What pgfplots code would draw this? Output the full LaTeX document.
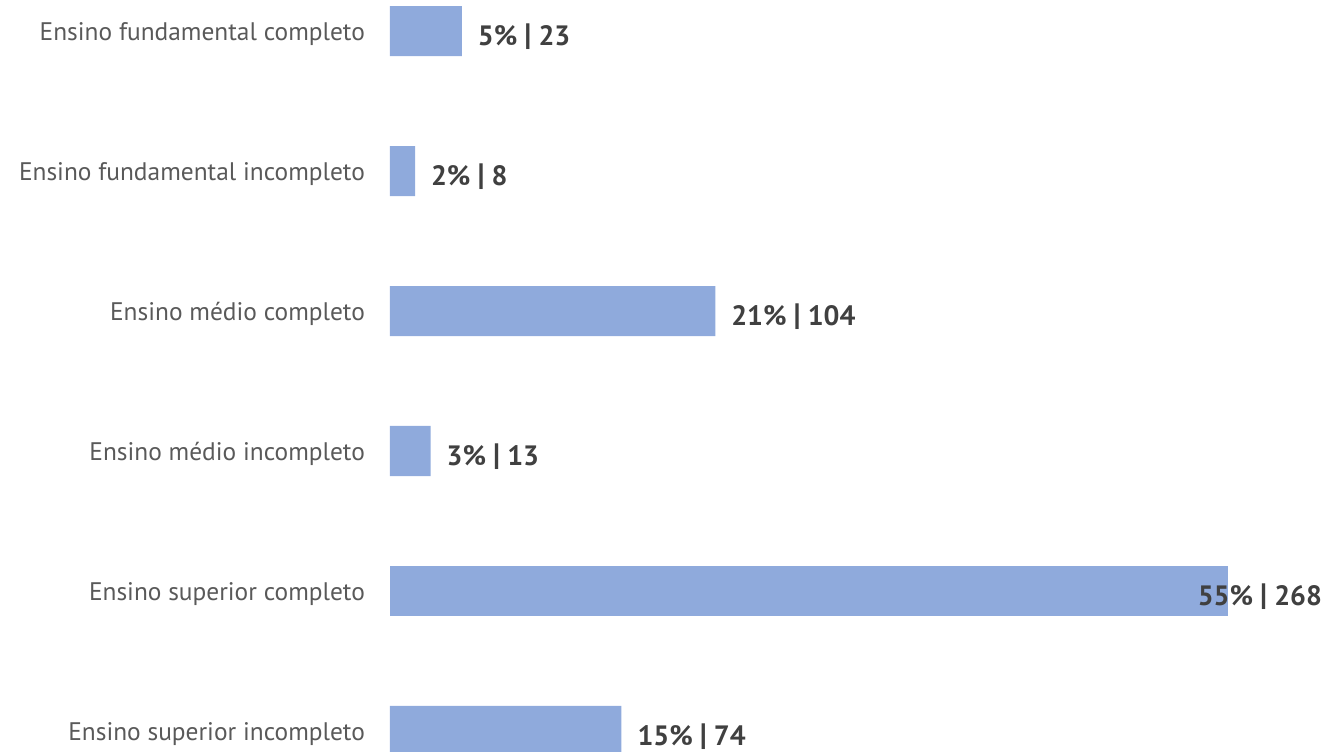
\documentclass[border=0pt]{standalone}
\usepackage{pgfplots}
\pgfplotsset{compat=1.18}
\usepackage{fontspec}
\setmainfont{PT Sans}
\definecolor{barc}{HTML}{8FAADC}
\definecolor{labc}{HTML}{595959}
\definecolor{valc}{HTML}{404040}
\newcommand{\sep}{\ {\fontsize{15.5}{16}\selectfont|}\ }
\begin{document}
\begin{tikzpicture}
\begin{axis}[
  at={(0,0)}, anchor=south west,
  scale only axis, width=473.5pt, height=375.5pt,
  xmin=0, xmax=302.8,
  y dir=reverse, ymin=-0.2214, ymax=5.143,
  axis line style={draw=none},
  major tick length=0pt,
  xtick=\empty,
  ytick={0,1,2,3,4,5},
  yticklabels={Ensino fundamental completo, Ensino fundamental incompleto, Ensino médio completo, Ensino médio incompleto, Ensino superior completo, Ensino superior incompleto},
  yticklabel style={font=\fontsize{12.7}{15}\selectfont, text=labc, xshift=-9pt, yshift=-1.5pt},
  xbar, bar width=25pt, bar shift=0pt,
  point meta=explicit symbolic,
  nodes near coords,
  nodes near coords style={font=\fontsize{14}{16}\selectfont\bfseries, text=valc, anchor=west, yshift=-3pt},
]
\addplot[fill=barc, draw=none, nodes near coords style={xshift=4.5pt}] coordinates {
  (23,0) [5\%\sep 23]
  (8,1) [2\%\sep 8]
  (104,2) [21\%\sep 104]
  (13,3) [3\%\sep 13]
  (74,5) [15\%\sep 74]
};
\addplot[fill=barc, draw=none, nodes near coords style={xshift=-18.7pt}] coordinates {
  (268,4) [55\%\sep 268]
};
\end{axis}
\pgfresetboundingbox
\path[use as bounding box] (-195pt,0) rectangle (473.5pt,375.5pt);
\end{tikzpicture}
\end{document}
